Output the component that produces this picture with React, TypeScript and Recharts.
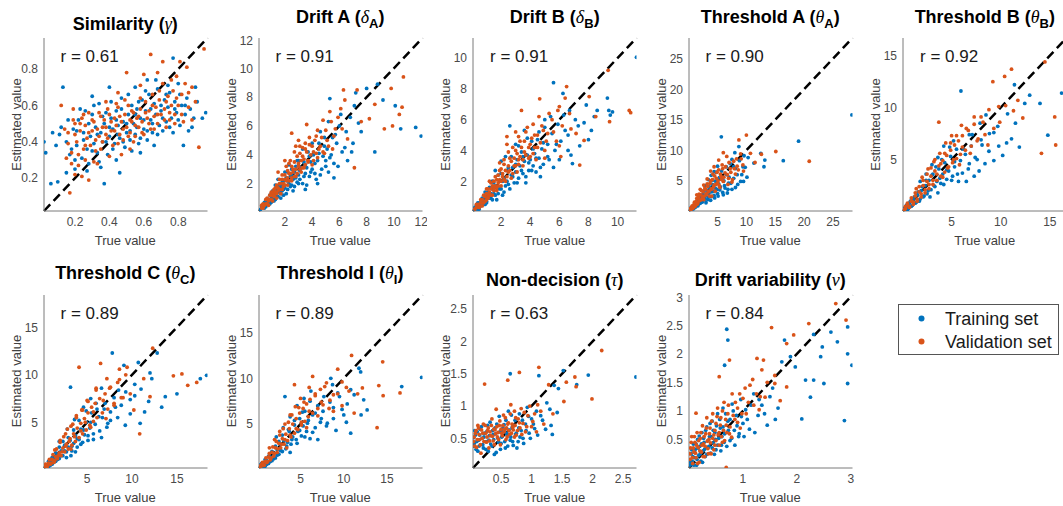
import React from 'react';
import { ScatterChart, Scatter, XAxis, YAxis, ReferenceLine } from 'recharts';

type Pt = [number, number];

// ---- data (true value, estimated value) ----
// outer points, then the dense core of each cloud

const simTrain: Pt[] = [[0.02,0.40],[0.03,0.34],[0.06,0.17],[0.07,0.45],[0.10,0.18],[0.11,0.44],[0.13,0.70],[0.15,0.23],[0.16,0.52],[0.18,0.36],[0.20,0.30],[0.21,0.46],[0.23,0.58],[0.25,0.41],[0.27,0.24],[0.28,0.50],[0.30,0.35],[0.31,0.60],[0.33,0.44],[0.34,0.29],[0.36,0.54],[0.37,0.17],[0.38,0.40],[0.40,0.48],[0.41,0.62],[0.42,0.36],[0.44,0.52],[0.45,0.44],[0.46,0.23],[0.47,0.58],[0.48,0.40],[0.50,0.50],[0.51,0.66],[0.52,0.46],[0.53,0.35],[0.55,0.55],[0.56,0.48],[0.57,0.62],[0.58,0.42],[0.60,0.52],[0.61,0.68],[0.62,0.46],[0.64,0.58],[0.65,0.50],[0.67,0.74],[0.68,0.44],[0.70,0.60],[0.71,0.53],[0.73,0.66],[0.74,0.71],[0.75,0.48],[0.77,0.86],[0.78,0.58],[0.80,0.52],[0.81,0.66],[0.83,0.38],[0.84,0.60],[0.86,0.46],[0.89,0.53],[0.90,0.70],[0.94,0.53],[0.96,0.56]];
const simTrainCore: Pt[] = [[0.15,0.40],[0.17,0.33],[0.19,0.47],[0.21,0.38],[0.22,0.52],[0.24,0.31],[0.25,0.45],[0.26,0.57],[0.27,0.36],[0.29,0.43],[0.30,0.55],[0.31,0.39],[0.32,0.48],[0.33,0.34],[0.34,0.61],[0.35,0.45],[0.36,0.40],[0.37,0.50],[0.38,0.56],[0.39,0.33],[0.40,0.43],[0.41,0.53],[0.42,0.47],[0.43,0.39],[0.44,0.57],[0.45,0.49],[0.46,0.42],[0.47,0.64],[0.48,0.51],[0.49,0.37],[0.50,0.45],[0.51,0.55],[0.52,0.41],[0.53,0.60],[0.54,0.50],[0.55,0.44],[0.56,0.58],[0.57,0.39],[0.58,0.53],[0.59,0.63],[0.60,0.47],[0.61,0.57],[0.62,0.41],[0.63,0.66],[0.64,0.52],[0.65,0.45],[0.66,0.61],[0.67,0.55],[0.68,0.69],[0.69,0.49],[0.70,0.57],[0.71,0.46],[0.72,0.63],[0.73,0.51],[0.74,0.59],[0.75,0.67],[0.76,0.53],[0.77,0.45],[0.78,0.62],[0.79,0.56],[0.80,0.72],[0.81,0.49],[0.82,0.60],[0.84,0.55],[0.85,0.64],[0.87,0.58],[0.88,0.48],[0.91,0.62],[0.28,0.28],[0.35,0.26],[0.44,0.30],[0.20,0.25],[0.58,0.34],[0.66,0.38],[0.12,0.48],[0.09,0.38],[0.30,0.65],[0.40,0.70],[0.55,0.70],[0.62,0.74]];
const simValid: Pt[] = [[0.12,0.60],[0.14,0.47],[0.16,0.39],[0.17,0.12],[0.18,0.28],[0.19,0.52],[0.20,0.44],[0.22,0.33],[0.23,0.50],[0.24,0.21],[0.25,0.55],[0.26,0.38],[0.28,0.19],[0.28,0.45],[0.30,0.52],[0.31,0.29],[0.32,0.41],[0.34,0.56],[0.35,0.36],[0.36,0.48],[0.38,0.44],[0.39,0.58],[0.40,0.32],[0.41,0.51],[0.43,0.46],[0.44,0.61],[0.45,0.39],[0.46,0.54],[0.48,0.47],[0.49,0.63],[0.50,0.78],[0.51,0.43],[0.52,0.52],[0.53,0.57],[0.54,0.40],[0.55,0.49],[0.57,0.54],[0.58,0.64],[0.59,0.45],[0.60,0.77],[0.61,0.56],[0.63,0.50],[0.64,0.88],[0.65,0.60],[0.66,0.47],[0.68,0.55],[0.69,0.68],[0.71,0.84],[0.72,0.52],[0.73,0.62],[0.75,0.56],[0.76,0.74],[0.78,0.50],[0.79,0.64],[0.81,0.84],[0.82,0.55],[0.85,0.81],[0.86,0.67],[0.88,0.52],[0.92,0.37],[0.95,0.91]];
const simValidCore: Pt[] = [[0.16,0.45],[0.18,0.34],[0.19,0.58],[0.20,0.50],[0.21,0.40],[0.22,0.27],[0.23,0.46],[0.24,0.53],[0.25,0.36],[0.26,0.49],[0.27,0.42],[0.28,0.56],[0.29,0.38],[0.30,0.46],[0.31,0.51],[0.32,0.35],[0.33,0.47],[0.34,0.43],[0.35,0.54],[0.36,0.40],[0.37,0.52],[0.38,0.48],[0.39,0.42],[0.40,0.55],[0.41,0.46],[0.42,0.38],[0.43,0.53],[0.44,0.49],[0.45,0.59],[0.46,0.44],[0.47,0.51],[0.48,0.41],[0.49,0.55],[0.50,0.48],[0.51,0.60],[0.52,0.45],[0.53,0.51],[0.54,0.56],[0.55,0.43],[0.56,0.53],[0.57,0.48],[0.58,0.58],[0.59,0.51],[0.60,0.44],[0.61,0.62],[0.62,0.53],[0.63,0.57],[0.64,0.47],[0.65,0.66],[0.66,0.54],[0.67,0.59],[0.68,0.50],[0.69,0.63],[0.70,0.55],[0.71,0.72],[0.72,0.58],[0.73,0.48],[0.74,0.65],[0.75,0.52],[0.76,0.60],[0.77,0.68],[0.78,0.55],[0.79,0.76],[0.80,0.60],[0.82,0.66],[0.83,0.51],[0.84,0.72],[0.86,0.59],[0.88,0.70],[0.90,0.62],[0.20,0.22],[0.26,0.30],[0.33,0.28],[0.15,0.31],[0.47,0.33],[0.52,0.36],[0.38,0.62],[0.45,0.67],[0.58,0.71],[0.68,0.78]];

const driftATrain: Pt[] = [[0.3,0.4],[0.5,0.3],[0.6,0.8],[0.8,0.6],[0.9,1.2],[1.0,0.9],[1.1,1.5],[1.2,0.8],[1.3,1.9],[1.4,1.2],[1.5,2.3],[1.6,1.4],[1.7,1.0],[1.8,2.1],[1.9,1.6],[2.0,2.8],[2.1,1.3],[2.2,2.2],[2.3,3.3],[2.4,1.8],[2.5,2.6],[2.6,1.5],[2.8,2.4],[2.9,3.6],[3.0,2.0],[3.1,2.9],[3.3,4.4],[3.4,2.5],[3.5,3.3],[3.6,1.9],[3.8,3.9],[3.9,2.8],[4.0,4.8],[4.2,3.4],[4.3,2.3],[4.5,4.1],[4.6,5.6],[4.7,3.0],[4.9,4.6],[5.0,3.6],[5.2,6.3],[5.3,7.9],[5.4,4.0],[5.6,2.4],[5.7,5.4],[5.9,3.2],[6.1,6.8],[6.4,4.5],[6.9,4.2],[7.1,7.4],[7.2,8.3],[7.6,5.6],[8.0,8.6],[8.6,4.2],[8.8,8.9],[9.2,7.8],[10.1,7.4],[10.5,5.8],[11.6,5.9],[12.0,5.3]];
const driftATrainCore: Pt[] = [[0.2,0.2],[0.4,0.5],[0.5,0.7],[0.6,0.4],[0.7,0.7],[0.8,0.9],[0.9,0.6],[1.0,1.1],[1.0,0.7],[1.1,1.2],[1.2,1.0],[1.3,1.3],[1.3,0.9],[1.4,1.6],[1.5,1.1],[1.5,1.8],[1.6,1.5],[1.7,1.8],[1.7,1.3],[1.8,1.5],[1.9,2.2],[1.9,1.2],[2.0,1.7],[2.1,2.4],[2.2,1.6],[2.2,2.8],[2.3,2.0],[2.4,2.5],[2.5,1.9],[2.5,3.0],[2.6,2.3],[2.7,1.8],[2.7,2.8],[2.8,3.2],[2.9,2.1],[3.0,2.6],[3.0,3.6],[3.1,2.3],[3.2,3.1],[3.3,2.0],[3.4,3.5],[3.5,2.7],[3.6,3.1],[3.7,4.2],[3.8,2.5],[3.9,3.5],[4.0,3.0],[4.1,4.0],[4.2,2.7],[4.4,3.6],[4.5,4.8],[4.6,2.6],[4.8,3.9],[4.9,5.2],[5.0,3.2],[5.1,4.4],[5.3,3.8],[5.5,5.2],[5.6,3.4],[5.8,4.8],[6.0,6.0],[6.2,4.2],[6.5,5.6],[6.8,6.6],[7.0,4.8],[7.4,6.2],[4.4,2.0],[3.5,1.6],[5.2,2.8],[6.6,3.6]];
const driftAValid: Pt[] = [[0.3,0.5],[0.4,0.3],[0.6,0.6],[0.7,1.0],[0.8,0.5],[0.9,0.9],[1.0,1.4],[1.1,0.8],[1.2,1.2],[1.3,1.7],[1.4,1.0],[1.5,1.5],[1.6,2.0],[1.7,1.3],[1.8,2.6],[1.9,1.8],[2.0,2.3],[2.1,3.2],[2.2,1.9],[2.3,2.7],[2.4,3.6],[2.5,2.2],[2.5,5.5],[2.6,3.0],[2.7,4.2],[2.8,2.5],[3.0,3.4],[3.1,4.6],[3.2,2.8],[3.3,3.9],[3.4,3.1],[3.5,4.4],[3.6,6.1],[3.7,3.6],[3.8,4.7],[4.0,3.3],[4.1,4.2],[4.3,5.3],[4.4,3.8],[4.6,4.6],[4.8,6.4],[4.9,4.1],[5.1,5.0],[5.3,7.0],[5.5,4.4],[5.7,5.8],[6.1,7.2],[6.3,8.5],[6.6,5.1],[7.1,3.1],[7.3,8.5],[7.6,6.3],[8.2,6.5],[8.6,7.5],[9.3,5.8],[9.8,8.6],[9.9,6.0],[10.4,6.8],[10.6,7.3],[10.7,9.4]];
const driftAValidCore: Pt[] = [[0.3,0.3],[0.4,0.6],[0.5,0.5],[0.6,0.9],[0.7,0.6],[0.8,0.8],[0.9,1.2],[1.0,0.9],[1.0,1.2],[1.1,1.4],[1.2,1.1],[1.2,1.6],[1.3,1.4],[1.4,1.3],[1.4,1.9],[1.5,1.7],[1.6,1.6],[1.6,2.3],[1.7,2.0],[1.8,1.6],[1.8,2.3],[1.9,2.0],[2.0,2.6],[2.0,1.9],[2.1,2.2],[2.2,2.9],[2.2,2.4],[2.3,2.2],[2.3,3.4],[2.4,2.7],[2.5,2.4],[2.5,3.2],[2.6,2.8],[2.7,3.5],[2.7,2.5],[2.8,3.0],[2.9,3.9],[2.9,2.7],[3.0,3.2],[3.1,4.1],[3.1,3.0],[3.2,3.6],[3.3,4.5],[3.3,3.1],[3.4,3.7],[3.5,4.8],[3.5,3.3],[3.6,4.2],[3.7,3.5],[3.8,5.2],[3.9,4.0],[4.0,4.6],[4.1,3.6],[4.2,5.0],[4.3,4.1],[4.4,5.7],[4.5,4.4],[4.7,5.2],[4.8,4.2],[5.0,5.7],[5.2,4.6],[5.4,6.3],[5.6,5.3],[5.9,6.6],[6.2,5.8],[6.4,7.8],[2.0,3.6],[2.8,4.6],[3.0,5.0],[1.5,2.8]];

const driftBTrain: Pt[] = [[0.2,0.3],[0.4,0.6],[0.5,0.2],[0.7,0.9],[0.8,0.5],[0.9,1.3],[1.0,0.7],[1.1,1.0],[1.2,1.6],[1.3,0.9],[1.4,2.0],[1.5,1.2],[1.6,1.7],[1.7,0.8],[1.8,2.4],[1.9,1.5],[2.0,3.3],[2.1,2.0],[2.2,1.3],[2.4,2.7],[2.5,1.8],[2.6,5.6],[2.7,3.6],[2.8,2.3],[3.0,3.1],[3.1,1.9],[3.2,4.3],[3.4,2.7],[3.5,3.6],[3.7,2.3],[3.8,4.8],[3.9,3.2],[4.1,2.7],[4.2,4.1],[4.4,3.5],[4.6,5.2],[4.7,2.9],[4.9,4.5],[5.0,5.5],[5.2,3.6],[5.4,6.2],[5.6,8.4],[5.8,4.4],[6.0,3.4],[6.25,7.7],[6.4,5.3],[6.6,4.0],[6.7,6.6],[6.9,3.15],[7.3,5.6],[7.85,6.95],[8.0,4.7],[8.4,6.2],[8.6,6.6],[9.3,7.4],[9.4,6.6],[9.5,6.3],[9.65,6.5],[11.3,10.05]];
const driftBTrainCore: Pt[] = [[0.2,0.1],[0.3,0.4],[0.4,0.2],[0.5,0.6],[0.6,0.4],[0.7,0.6],[0.8,0.8],[0.9,0.5],[1.0,1.0],[1.0,0.6],[1.1,1.3],[1.2,0.9],[1.3,1.2],[1.4,1.5],[1.4,0.8],[1.5,1.9],[1.6,1.1],[1.7,1.6],[1.8,1.2],[1.9,2.0],[2.0,1.5],[2.0,2.5],[2.1,1.1],[2.2,2.2],[2.3,1.7],[2.4,2.0],[2.5,2.9],[2.6,1.5],[2.7,2.4],[2.8,2.9],[2.9,1.9],[3.0,2.6],[3.1,3.4],[3.2,2.2],[3.3,3.0],[3.4,3.9],[3.5,2.5],[3.6,3.3],[3.7,1.9],[3.8,3.7],[3.9,2.7],[4.0,3.4],[4.1,4.6],[4.2,3.0],[4.3,3.8],[4.4,2.6],[4.5,4.7],[4.6,3.5],[4.8,4.1],[4.9,3.1],[5.0,6.0],[5.2,4.4],[5.3,3.4],[5.5,5.1],[5.7,4.0],[5.9,5.7],[6.1,4.6],[6.3,6.3],[6.6,5.0],[6.8,3.7],[7.1,6.0],[7.4,4.3],[7.7,5.8],[8.2,5.3],[2.3,3.6],[3.0,4.4],[3.6,5.3],[1.6,2.7],[4.7,2.3],[5.6,2.9]];
const driftBValid: Pt[] = [[0.2,0.2],[0.3,0.5],[0.5,0.4],[0.6,0.8],[0.7,0.4],[0.8,1.1],[0.9,0.7],[1.0,1.5],[1.1,1.0],[1.2,1.3],[1.3,1.9],[1.4,1.1],[1.5,1.6],[1.6,2.3],[1.7,1.4],[1.8,1.9],[1.9,2.7],[2.0,1.7],[2.1,2.3],[2.2,3.1],[2.3,2.0],[2.4,4.9],[2.5,2.6],[2.6,3.5],[2.7,2.2],[2.9,3.0],[3.0,4.0],[3.1,2.6],[3.2,3.4],[3.3,4.6],[3.4,6.6],[3.5,3.0],[3.6,3.9],[3.7,5.2],[3.9,3.5],[4.0,4.4],[4.2,3.8],[4.3,5.0],[4.5,4.2],[4.65,7.35],[4.8,5.6],[5.0,4.0],[5.2,5.1],[5.5,6.0],[5.8,4.6],[6.0,6.85],[6.1,3.6],[6.5,8.15],[6.8,5.4],[7.15,5.1],[7.4,3.05],[7.7,4.65],[8.05,7.5],[8.5,6.2],[9.35,9.2],[9.45,5.87],[10.8,6.6],[10.9,6.45]];
const driftBValidCore: Pt[] = [[0.3,0.3],[0.4,0.5],[0.5,0.3],[0.6,0.6],[0.7,0.8],[0.8,0.6],[0.9,1.0],[1.0,0.8],[1.0,1.2],[1.1,1.5],[1.1,0.9],[1.2,1.1],[1.3,1.5],[1.3,1.1],[1.4,1.7],[1.5,1.4],[1.5,2.0],[1.6,1.7],[1.7,2.1],[1.7,1.6],[1.8,2.4],[1.8,1.7],[1.9,2.1],[2.0,2.0],[2.0,2.8],[2.1,2.5],[2.2,2.1],[2.2,3.4],[2.3,2.7],[2.4,2.3],[2.5,3.0],[2.5,3.9],[2.6,2.7],[2.7,3.3],[2.8,2.5],[2.8,4.2],[2.9,3.5],[3.0,3.0],[3.1,3.8],[3.2,4.9],[3.2,3.1],[3.3,3.6],[3.4,4.2],[3.5,3.4],[3.6,4.6],[3.7,3.7],[3.8,5.5],[3.9,4.2],[4.0,3.6],[4.1,4.8],[4.2,5.7],[4.3,4.2],[4.4,3.4],[4.5,5.0],[4.6,6.2],[4.7,4.5],[4.9,5.3],[5.1,4.6],[5.3,6.4],[5.6,5.2],[5.9,6.6],[6.2,5.6],[6.4,7.4],[6.7,6.4],[1.9,3.2],[2.4,4.4],[3.0,5.2],[1.2,2.0],[5.0,3.5],[6.0,4.3]];

const thrATrain: Pt[] = [[0.3,0.2],[0.5,0.6],[0.8,0.4],[1.0,1.1],[1.2,0.7],[1.4,1.5],[1.6,0.9],[1.8,2.0],[2.0,1.3],[2.2,2.6],[2.4,1.6],[2.6,3.3],[2.8,2.1],[3.0,1.4],[3.2,3.0],[3.4,2.3],[3.6,4.0],[3.8,1.8],[4.0,3.2],[4.2,5.1],[4.4,2.6],[4.6,3.8],[4.8,6.4],[5.0,2.9],[5.2,4.5],[5.4,3.5],[5.65,12.2],[5.8,5.5],[6.0,2.7],[6.2,4.2],[6.5,7.3],[6.8,3.6],[7.0,5.6],[7.3,4.6],[7.5,8.5],[7.8,7.3],[8.1,3.9],[8.4,6.0],[8.7,10.6],[9.0,4.9],[9.5,4.9],[9.8,7.2],[10.3,8.8],[11.3,7.9],[12.5,9.5],[13.05,7.3],[13.2,8.4],[16.4,8.3],[19.05,11.5],[28.3,15.8]];
const thrATrainCore: Pt[] = [[0.3,0.5],[0.5,0.3],[0.7,0.8],[0.9,0.5],[1.1,1.3],[1.3,0.9],[1.5,1.8],[1.7,1.2],[1.9,1.6],[2.1,2.2],[2.3,1.5],[2.5,2.8],[2.7,1.9],[2.9,2.6],[3.1,3.5],[3.3,1.9],[3.5,2.9],[3.7,3.8],[3.9,2.4],[4.1,4.4],[4.3,3.3],[4.5,2.2],[4.7,4.9],[4.9,3.6],[5.1,2.5],[5.3,5.5],[5.5,4.0],[5.7,6.6],[5.9,3.1],[6.1,5.0],[6.3,3.8],[6.6,6.0],[6.9,4.6],[7.2,7.8],[7.5,3.6],[7.8,5.4],[8.1,7.0],[8.5,4.4],[8.8,8.3],[9.2,6.0],[9.6,9.1],[10.1,5.6],[2.8,4.2],[3.4,5.2],[4.4,6.5],[6.7,3.0],[5.0,7.4],[3.9,5.9],[8.0,9.6],[9.4,7.3]];
const thrAValid: Pt[] = [[0.2,0.4],[0.4,0.3],[0.6,0.9],[0.8,0.6],[1.0,1.5],[1.2,1.0],[1.4,2.1],[1.6,1.4],[1.8,2.8],[2.0,1.8],[2.2,3.4],[2.4,2.4],[2.6,1.9],[2.8,3.8],[3.0,2.7],[3.2,4.5],[3.4,3.2],[3.6,2.5],[3.8,5.0],[4.0,3.7],[4.2,6.1],[4.4,4.3],[4.6,3.3],[4.8,5.4],[5.0,4.6],[5.2,6.8],[5.4,3.9],[5.6,5.7],[5.8,7.6],[6.0,4.9],[6.3,6.3],[6.6,9.0],[6.9,5.4],[7.2,7.0],[7.5,4.8],[7.8,8.2],[8.1,6.1],[8.4,7.4],[8.7,11.7],[9.1,8.6],[9.5,6.6],[10.0,12.5],[10.7,9.5],[11.5,8.0],[12.6,9.35],[15.1,9.8],[20.9,8.2]];
const thrAValidCore: Pt[] = [[0.3,0.3],[0.5,0.7],[0.7,0.5],[0.9,1.1],[1.1,0.8],[1.3,1.6],[1.5,1.2],[1.7,2.3],[1.9,1.8],[2.1,2.7],[2.3,2.0],[2.5,3.2],[2.7,2.5],[2.9,3.6],[3.1,2.9],[3.3,4.1],[3.5,3.3],[3.7,4.6],[3.9,3.6],[4.1,5.2],[4.3,4.0],[4.5,5.8],[4.7,4.4],[4.9,6.4],[5.1,5.0],[5.3,4.2],[5.5,6.1],[5.7,5.2],[5.9,7.0],[6.1,5.6],[6.4,7.3],[6.7,6.0],[7.0,8.0],[7.3,6.4],[7.6,5.2],[7.9,7.0],[8.3,8.6],[8.6,6.8],[9.0,9.4],[9.4,7.6],[2.0,3.6],[2.6,4.3],[3.2,5.3],[3.8,6.6],[4.4,7.3],[1.4,2.7],[5.2,8.4],[6.0,9.6],[6.8,4.4],[4.0,2.5]];

const thrBTrain: Pt[] = [[0.2,0.3],[0.4,0.6],[0.6,0.3],[0.8,1.0],[1.0,0.6],[1.2,1.4],[1.4,0.9],[1.6,1.9],[1.8,1.2],[2.0,2.4],[2.2,1.5],[2.4,3.0],[2.6,2.0],[2.8,1.4],[3.0,3.5],[3.2,2.5],[3.4,4.3],[3.6,1.8],[3.8,3.2],[4.0,5.0],[4.2,2.6],[4.5,4.0],[4.8,6.2],[5.0,3.0],[5.3,4.8],[5.6,3.6],[5.95,11.6],[6.2,6.0],[6.5,2.9],[6.8,4.6],[7.1,7.4],[7.4,5.2],[7.8,3.9],[8.1,6.4],[8.5,9.3],[8.85,7.5],[9.3,4.9],[9.7,8.2],[10.2,5.4],[10.7,9.4],[11.1,7.0],[11.4,12.2],[11.9,6.2],[12.45,10.4],[12.95,11.2],[14.0,10.4],[14.8,7.35],[16.2,11.4]];
const thrBTrainCore: Pt[] = [[0.3,0.4],[0.5,0.2],[0.7,0.8],[0.9,0.5],[1.1,1.2],[1.3,0.8],[1.5,1.6],[1.7,1.0],[1.9,2.0],[2.1,1.4],[2.3,2.5],[2.5,1.7],[2.7,3.0],[2.9,2.1],[3.1,3.6],[3.3,2.4],[3.5,2.9],[3.7,4.1],[3.9,2.7],[4.1,3.6],[4.3,4.7],[4.5,3.1],[4.7,3.9],[4.9,5.3],[5.1,3.4],[5.3,4.3],[5.5,6.0],[5.7,2.9],[5.9,4.9],[6.1,3.7],[6.4,5.5],[6.7,4.1],[7.0,6.3],[7.3,3.4],[7.6,5.0],[8.0,6.9],[8.4,4.6],[8.8,5.8],[9.3,7.6],[9.8,6.3],[2.4,3.6],[3.0,4.5],[3.6,5.2],[4.2,6.3],[1.8,2.9],[6.8,7.4],[5.2,6.8],[7.9,8.5],[10.6,6.6],[11.5,8.5]];
const thrBValid: Pt[] = [[0.2,0.2],[0.3,0.5],[0.5,0.8],[0.7,0.5],[0.9,1.3],[1.1,0.9],[1.3,1.8],[1.5,1.2],[1.7,2.4],[1.9,1.7],[2.1,3.0],[2.3,2.1],[2.5,3.6],[2.7,2.6],[2.9,4.2],[3.1,3.0],[3.3,5.0],[3.5,3.6],[3.7,8.6],[3.9,4.6],[4.1,3.3],[4.3,5.6],[4.6,4.2],[4.9,6.6],[5.2,5.0],[5.5,7.3],[5.8,4.5],[6.1,6.2],[6.5,8.0],[6.9,5.6],[7.3,9.1],[7.7,7.0],[8.2,8.6],[8.7,6.4],[9.2,12.5],[9.9,8.6],[10.4,13.0],[11.1,13.7],[11.75,10.7],[12.25,9.0],[14.15,5.6],[14.5,14.4],[15.5,9.1],[15.6,6.4]];
const thrBValidCore: Pt[] = [[0.3,0.3],[0.5,0.6],[0.7,0.4],[0.9,1.0],[1.1,0.7],[1.3,1.5],[1.5,1.0],[1.7,1.9],[1.9,1.4],[2.1,2.5],[2.3,1.8],[2.5,2.9],[2.7,2.2],[2.9,3.4],[3.1,2.6],[3.3,3.9],[3.5,3.0],[3.7,4.4],[3.9,3.4],[4.1,4.9],[4.3,3.8],[4.5,5.4],[4.7,4.3],[4.9,5.9],[5.1,4.7],[5.3,6.4],[5.5,5.1],[5.7,6.8],[5.9,5.5],[6.1,7.3],[6.4,5.9],[6.7,7.8],[7.0,6.3],[7.3,8.4],[7.6,6.8],[8.0,9.1],[8.4,7.4],[8.8,9.8],[9.3,8.0],[9.8,10.1],[2.0,3.3],[2.6,4.1],[3.2,4.8],[3.8,5.6],[4.4,6.6],[5.0,7.3],[1.4,2.2],[6.0,8.3],[10.5,10.2],[11.3,9.7]];

const thrCTrain: Pt[] = [[0.3,0.4],[0.5,0.2],[0.7,0.9],[0.9,0.5],[1.1,1.3],[1.3,0.8],[1.5,1.8],[1.7,1.1],[1.9,2.4],[2.1,1.5],[2.3,3.0],[2.5,2.0],[2.7,1.3],[2.9,3.4],[3.15,8.7],[3.3,2.5],[3.5,4.2],[3.7,1.9],[3.9,3.3],[4.1,5.2],[4.3,2.7],[4.6,4.2],[4.9,6.2],[5.1,3.1],[5.4,5.0],[5.7,3.8],[6.0,7.0],[6.3,5.6],[6.6,3.4],[6.9,6.4],[7.2,4.5],[7.6,5.2],[7.8,12.3],[8.15,6.6],[8.5,8.4],[9.1,11.0],[9.25,4.7],[9.8,7.4],[10.3,9.0],[10.7,11.3],[10.9,4.9],[11.4,6.1],[11.85,7.2],[12.2,9.6],[12.8,12.3],[13.3,6.6],[13.7,7.7],[15.0,8.0],[17.6,9.6],[18.3,9.95]];
const thrCTrainCore: Pt[] = [[0.3,0.2],[0.5,0.5],[0.7,0.3],[0.9,0.9],[1.1,0.6],[1.3,1.2],[1.5,0.9],[1.7,1.6],[1.9,1.2],[2.1,2.0],[2.3,1.5],[2.5,2.6],[2.7,1.9],[2.9,2.4],[3.1,3.1],[3.3,2.0],[3.5,2.8],[3.7,3.6],[3.9,2.4],[4.1,3.2],[4.3,4.3],[4.5,2.9],[4.7,3.7],[4.9,5.0],[5.1,3.6],[5.3,4.4],[5.5,6.0],[5.7,3.2],[5.9,4.8],[6.1,6.4],[6.4,4.1],[6.7,5.5],[7.0,7.0],[7.3,4.9],[7.6,6.1],[8.0,7.6],[8.4,5.5],[8.8,6.8],[9.3,8.2],[9.8,5.9],[10.3,7.8],[2.8,4.3],[3.6,5.3],[4.6,6.6],[5.4,7.5],[6.6,8.6],[1.9,3.0],[3.2,1.5],[11.0,8.5],[12.0,10.2]];
const thrCValid: Pt[] = [[0.2,0.3],[0.4,0.6],[0.6,0.4],[0.8,1.1],[1.0,0.7],[1.2,1.6],[1.4,1.0],[1.6,2.2],[1.8,1.5],[2.0,2.9],[2.2,1.9],[2.4,3.5],[2.6,2.5],[2.8,4.3],[3.0,3.0],[3.2,2.2],[3.4,4.8],[3.6,3.5],[3.8,5.7],[4.1,10.8],[4.3,4.1],[4.5,6.3],[4.8,5.0],[5.1,7.2],[5.4,4.5],[5.7,6.1],[6.0,8.4],[6.5,11.2],[6.8,7.3],[7.1,5.4],[7.5,8.6],[8.0,6.8],[8.6,9.5],[9.0,7.6],[9.45,10.8],[10.2,6.3],[10.85,3.8],[11.3,9.6],[12.0,7.7],[12.3,12.8],[14.6,9.9],[15.55,10.1],[16.2,8.9],[17.2,9.2]];
const thrCValidCore: Pt[] = [[0.3,0.4],[0.5,0.3],[0.7,0.7],[0.9,0.6],[1.1,1.1],[1.3,0.8],[1.5,1.4],[1.7,1.2],[1.9,1.8],[2.1,1.5],[2.3,2.3],[2.5,1.9],[2.7,2.7],[2.9,2.2],[3.1,3.3],[3.3,2.6],[3.5,3.8],[3.7,3.0],[3.9,4.4],[4.1,3.4],[4.3,4.9],[4.5,3.8],[4.7,5.4],[4.9,4.2],[5.1,6.0],[5.3,4.7],[5.5,6.6],[5.7,5.1],[5.9,7.0],[6.1,5.5],[6.4,7.5],[6.7,6.0],[7.0,8.0],[7.3,6.4],[7.6,8.7],[8.0,7.0],[8.4,9.2],[8.8,7.6],[9.3,10.0],[9.8,8.0],[2.0,3.1],[2.6,3.8],[3.2,4.6],[3.8,5.5],[4.4,6.3],[5.0,7.3],[6.0,8.6],[7.2,9.6],[1.4,2.1],[8.6,10.6]];

const thrITrain: Pt[] = [[0.3,0.3],[0.5,0.7],[0.7,0.3],[0.9,1.1],[1.1,0.6],[1.3,1.5],[1.5,0.9],[1.7,2.0],[1.9,1.2],[2.1,2.6],[2.3,1.6],[2.5,3.1],[2.7,2.1],[2.9,3.8],[3.2,8.0],[3.4,2.6],[3.6,4.4],[3.8,1.9],[4.0,3.3],[4.3,5.4],[4.6,2.9],[4.9,4.3],[5.2,6.3],[5.5,3.6],[5.8,5.1],[6.1,7.5],[6.4,4.1],[6.7,6.2],[7.0,3.3],[7.4,5.6],[7.7,8.0],[8.1,5.1],[8.5,10.0],[8.8,6.8],[9.1,4.3],[9.5,8.0],[10.0,6.0],[10.4,7.2],[10.8,4.0],[10.8,8.75],[11.75,11.1],[11.95,10.7],[12.3,7.65],[12.7,6.55],[16.7,9.1],[19.0,10.1]];
const thrITrainCore: Pt[] = [[0.3,0.5],[0.5,0.2],[0.7,0.7],[0.9,0.4],[1.1,1.0],[1.3,0.7],[1.5,1.4],[1.7,1.0],[1.9,1.8],[2.1,1.3],[2.3,2.2],[2.5,1.7],[2.7,2.8],[2.9,2.0],[3.1,3.2],[3.3,2.3],[3.5,3.0],[3.7,4.2],[3.9,2.8],[4.1,3.6],[4.3,4.9],[4.5,3.3],[4.7,4.2],[4.9,5.6],[5.1,3.7],[5.3,4.8],[5.5,6.4],[5.7,4.2],[5.9,5.4],[6.1,3.4],[6.4,6.0],[6.7,4.6],[7.0,7.0],[7.3,5.2],[7.6,6.4],[8.0,4.8],[8.4,7.4],[8.8,5.6],[9.3,8.4],[9.8,6.6],[10.3,5.2],[3.0,4.6],[3.8,5.8],[4.6,7.0],[5.4,7.8],[2.2,3.6],[6.2,8.6],[8.7,9.3],[11.2,8.2],[12.0,6.0]];
const thrIValid: Pt[] = [[0.2,0.4],[0.4,0.2],[0.6,0.8],[0.8,0.5],[1.0,1.3],[1.2,0.9],[1.4,1.8],[1.6,1.3],[1.8,2.5],[2.0,1.8],[2.2,3.1],[2.4,2.3],[2.6,3.8],[2.8,2.8],[3.0,4.5],[3.2,3.3],[3.4,2.4],[3.6,5.2],[3.8,3.8],[4.0,6.0],[4.3,9.3],[4.5,4.5],[4.8,6.8],[5.1,5.2],[5.4,7.4],[5.7,4.6],[6.0,6.4],[6.4,10.2],[6.7,8.1],[7.0,5.9],[7.4,7.4],[7.8,9.1],[8.3,6.7],[8.8,8.2],[9.3,11.0],[9.8,7.0],[10.3,9.0],[10.9,12.5],[11.2,6.2],[12.15,8.95],[13.85,4.6],[14.05,9.2],[14.5,11.8],[14.55,8.1],[16.5,8.4]];
const thrIValidCore: Pt[] = [[0.3,0.3],[0.5,0.6],[0.7,0.5],[0.9,0.9],[1.1,0.8],[1.3,1.4],[1.5,1.1],[1.7,1.9],[1.9,1.5],[2.1,2.4],[2.3,1.9],[2.5,2.9],[2.7,2.4],[2.9,3.4],[3.1,2.8],[3.3,3.9],[3.5,3.2],[3.7,4.5],[3.9,3.6],[4.1,5.0],[4.3,4.0],[4.5,5.6],[4.7,4.4],[4.9,6.2],[5.1,4.9],[5.3,6.7],[5.5,5.3],[5.7,7.2],[5.9,5.8],[6.1,7.7],[6.4,6.2],[6.7,8.3],[7.0,6.7],[7.3,8.8],[7.6,7.1],[8.0,9.5],[8.4,7.6],[8.8,6.4],[9.3,8.3],[9.8,9.6],[2.0,3.3],[2.6,4.2],[3.2,5.0],[3.8,6.0],[4.4,6.9],[5.0,7.8],[1.4,2.4],[6.0,9.0],[10.6,8.6],[11.6,8.3]];

const ndTrain: Pt[] = [[0.05,0.38],[0.05,0.51],[0.07,0.62],[0.1,0.45],[0.12,0.30],[0.15,0.55],[0.18,0.68],[0.2,0.40],[0.22,0.52],[0.25,0.33],[0.27,0.61],[0.3,0.47],[0.32,0.75],[0.35,0.38],[0.37,0.56],[0.4,0.66],[0.42,0.28],[0.45,0.50],[0.47,0.84],[0.5,0.42],[0.52,0.60],[0.55,0.71],[0.57,0.35],[0.6,0.55],[0.62,0.92],[0.65,1.50],[0.65,0.47],[0.68,0.66],[0.7,0.39],[0.73,0.78],[0.75,0.58],[0.78,0.45],[0.8,0.88],[0.83,0.62],[0.86,0.50],[0.9,0.72],[0.93,0.98],[0.96,0.58],[1.0,0.80],[1.05,0.65],[1.12,1.47],[1.15,0.85],[1.23,0.64],[1.3,0.95],[1.34,0.56],[1.37,1.32],[1.44,1.27],[1.52,1.55],[1.74,1.33],[1.93,1.48],[2.71,1.45]];
const ndTrainCore: Pt[] = [[0.06,0.42],[0.08,0.55],[0.09,0.33],[0.11,0.60],[0.13,0.47],[0.14,0.38],[0.16,0.64],[0.19,0.50],[0.21,0.35],[0.23,0.58],[0.26,0.45],[0.28,0.70],[0.29,0.30],[0.31,0.54],[0.33,0.41],[0.36,0.62],[0.38,0.48],[0.39,0.25],[0.41,0.57],[0.43,0.72],[0.46,0.44],[0.48,0.60],[0.49,0.33],[0.51,0.52],[0.53,0.66],[0.56,0.45],[0.58,0.78],[0.59,0.58],[0.61,0.38],[0.63,0.63],[0.66,0.52],[0.67,0.86],[0.69,0.45],[0.71,0.70],[0.74,0.56],[0.76,0.35],[0.79,0.66],[0.81,0.52],[0.85,0.78],[0.87,0.42],[0.91,0.62],[0.95,0.84],[0.98,0.50],[1.03,0.72],[1.08,0.92],[1.1,0.55],[1.18,0.78],[1.25,1.05],[1.32,0.70],[1.42,0.90]];
const ndValid: Pt[] = [[0.05,0.45],[0.08,0.58],[0.1,0.36],[0.13,0.66],[0.15,0.48],[0.17,0.27],[0.2,0.58],[0.23,1.34],[0.24,0.70],[0.26,0.44],[0.28,0.62],[0.3,0.35],[0.33,0.54],[0.35,0.80],[0.37,0.46],[0.4,0.63],[0.42,0.95],[0.44,0.52],[0.47,0.70],[0.49,0.40],[0.51,0.58],[0.54,0.86],[0.56,0.64],[0.58,0.48],[0.61,1.40],[0.61,0.72],[0.64,0.56],[0.66,1.02],[0.69,0.67],[0.72,0.52],[0.74,0.82],[0.77,0.62],[0.8,1.52],[0.8,0.74],[0.84,0.56],[0.88,0.90],[0.92,0.68],[0.97,1.00],[1.02,0.76],[1.08,0.60],[1.12,1.60],[1.15,0.92],[1.2,0.72],[1.28,1.33],[1.35,0.88],[1.53,1.07],[1.57,1.37],[1.71,1.45],[1.73,1.30],[1.99,1.11],[2.15,1.86]];
const ndValidCore: Pt[] = [[0.06,0.52],[0.07,0.38],[0.09,0.62],[0.11,0.48],[0.12,0.70],[0.14,0.56],[0.16,0.40],[0.18,0.63],[0.19,0.50],[0.21,0.72],[0.22,0.45],[0.25,0.58],[0.27,0.52],[0.29,0.66],[0.31,0.46],[0.32,0.60],[0.34,0.70],[0.36,0.53],[0.38,0.64],[0.39,0.40],[0.41,0.57],[0.43,0.68],[0.45,0.59],[0.46,0.48],[0.48,0.77],[0.5,0.64],[0.52,0.54],[0.53,0.70],[0.55,0.60],[0.57,0.82],[0.59,0.66],[0.6,0.52],[0.62,0.74],[0.63,0.62],[0.65,0.88],[0.67,0.58],[0.68,0.72],[0.7,0.63],[0.72,0.92],[0.73,0.70],[0.75,0.55],[0.78,0.80],[0.81,0.66],[0.83,0.96],[0.86,0.73],[0.9,0.60],[0.94,0.85],[1.0,0.68],[1.05,0.88],[1.1,1.02]];

const dvTrain: Pt[] = [[0.02,0.05],[0.04,0.25],[0.06,0.12],[0.08,0.42],[0.1,0.18],[0.12,0.33],[0.14,0.05],[0.16,0.50],[0.18,0.22],[0.2,0.38],[0.22,0.12],[0.24,0.62],[0.26,0.30],[0.28,0.45],[0.3,0.20],[0.33,0.72],[0.35,0.36],[0.38,0.55],[0.4,0.26],[0.43,0.82],[0.45,0.44],[0.48,0.62],[0.5,0.32],[0.53,0.95],[0.55,0.52],[0.58,0.70],[0.6,0.40],[0.63,1.05],[0.66,1.80],[0.66,0.60],[0.7,2.43],[0.72,2.24],[0.72,0.82],[0.76,0.48],[0.8,1.12],[0.84,0.66],[0.88,0.92],[0.92,0.55],[0.96,1.20],[1.0,0.78],[1.05,1.02],[1.12,0.68],[1.2,1.30],[1.28,0.92],[1.35,1.10],[1.45,0.75],[1.55,1.40],[1.65,1.05],[1.72,1.86],[1.77,2.24],[1.88,1.95],[1.97,1.77],[2.09,0.86],[2.16,1.54],[2.25,1.24],[2.31,2.34],[2.31,1.54],[2.44,1.95],[2.47,2.12],[2.5,1.48],[2.63,2.38],[2.75,2.21],[2.88,0.83],[2.94,2.47],[2.94,2.0],[2.94,1.48],[3.02,1.8]];
const dvTrainCore: Pt[] = [[0.03,0.10],[0.05,0.32],[0.07,0.20],[0.09,0.05],[0.11,0.27],[0.13,0.42],[0.15,0.15],[0.17,0.35],[0.19,0.56],[0.21,0.25],[0.23,0.42],[0.25,0.10],[0.27,0.52],[0.29,0.33],[0.31,0.66],[0.33,0.24],[0.35,0.48],[0.37,0.38],[0.39,0.78],[0.41,0.55],[0.43,0.35],[0.45,0.66],[0.47,0.24],[0.49,0.50],[0.51,0.74],[0.53,0.40],[0.55,0.60],[0.57,0.85],[0.59,0.30],[0.61,0.55],[0.63,0.72],[0.65,0.45],[0.68,0.95],[0.7,0.38],[0.73,0.66],[0.76,0.85],[0.79,0.52],[0.82,1.00],[0.85,0.40],[0.89,0.74],[0.93,0.60],[0.97,0.90],[1.02,0.55],[1.08,0.85],[1.15,1.10],[1.22,0.62],[1.3,1.20],[1.4,0.95],[1.5,1.25],[1.6,0.85]];
const dvValid: Pt[] = [[0.02,0.15],[0.03,0.35],[0.05,0.55],[0.07,0.08],[0.09,0.28],[0.11,0.45],[0.13,0.96],[0.13,0.18],[0.15,0.62],[0.17,0.36],[0.19,0.10],[0.21,0.52],[0.23,0.28],[0.25,0.74],[0.27,0.42],[0.29,0.20],[0.31,0.60],[0.33,0.88],[0.35,0.34],[0.37,0.50],[0.39,0.70],[0.41,0.25],[0.44,0.95],[0.46,0.58],[0.48,0.40],[0.5,0.78],[0.53,1.05],[0.56,1.60],[0.56,0.62],[0.59,0.88],[0.62,0.45],[0.65,1.15],[0.69,0.01],[0.69,0.75],[0.72,0.95],[0.75,1.89],[0.75,0.60],[0.8,1.30],[0.85,0.85],[0.9,1.05],[0.95,0.70],[1.0,1.22],[1.06,0.95],[1.13,1.45],[1.2,1.10],[1.26,1.92],[1.32,1.25],[1.38,1.89],[1.41,1.24],[1.53,2.46],[1.59,1.62],[1.59,1.48],[1.69,1.18],[1.81,2.18],[1.81,1.42],[1.94,2.33],[2.22,2.53],[2.72,2.88],[2.91,2.59]];
const dvValidCore: Pt[] = [[0.02,0.25],[0.04,0.45],[0.06,0.18],[0.08,0.35],[0.1,0.55],[0.12,0.26],[0.14,0.40],[0.16,0.08],[0.18,0.48],[0.2,0.30],[0.22,0.62],[0.24,0.40],[0.26,0.20],[0.28,0.55],[0.3,0.38],[0.32,0.70],[0.34,0.47],[0.36,0.25],[0.38,0.60],[0.4,0.44],[0.42,0.82],[0.44,0.52],[0.46,0.32],[0.48,0.66],[0.5,0.48],[0.52,0.90],[0.54,0.58],[0.56,0.40],[0.58,0.75],[0.6,0.55],[0.62,1.00],[0.64,0.66],[0.66,0.48],[0.68,0.85],[0.7,0.62],[0.73,1.10],[0.76,0.72],[0.79,0.54],[0.82,0.92],[0.86,1.15],[0.9,0.80],[0.94,1.30],[0.98,0.95],[1.04,1.40],[1.1,1.15],[1.18,1.55],[1.25,1.30],[1.35,1.72],[1.45,1.50],[1.3,1.02]];

// axis limits (same on x and y) and tick labels
const limits: Pt[] = [[0.02, 0.97], [0.1, 12.1], [0.07, 11.3], [0.05, 28.4], [0.05, 16.7], [0.2, 18.4], [0.2, 19.1], [0.04, 2.72], [0, 3.03]];
const xTicks = [[0.2, 0.4, 0.6, 0.8], [2, 4, 6, 8, 10, 12], [2, 4, 6, 8, 10], [5, 10, 15, 20, 25], [5, 10, 15], [5, 10, 15], [5, 10, 15], [0.5, 1, 1.5, 2, 2.5], [1, 2, 3]];
const yTicks = [[0.2, 0.4, 0.6, 0.8], [2, 4, 6, 8, 10, 12], [2, 4, 6, 8, 10], [5, 10, 15, 20, 25], [5, 10, 15], [5, 10, 15], [5, 10, 15], [0.5, 1, 1.5, 2, 2.5], [0.5, 1, 1.5, 2, 2.5, 3]];
const titleNames = ['Similarity', 'Drift A', 'Drift B', 'Threshold A', 'Threshold B', 'Threshold C', 'Threshold I', 'Non-decision', 'Drift variability'];
const titleGreek = ['γ', 'δ', 'δ', 'θ', 'θ', 'θ', 'θ', 'τ', 'ν'];
const titleSubs = ['', 'A', 'B', 'A', 'B', 'C', 'I', '', ''];
const rValues = ['0.61', '0.91', '0.91', '0.90', '0.92', '0.89', '0.89', '0.63', '0.84'];
const trainSets = [
  [...simTrain, ...simTrainCore], [...driftATrain, ...driftATrainCore], [...driftBTrain, ...driftBTrainCore],
  [...thrATrain, ...thrATrainCore], [...thrBTrain, ...thrBTrainCore], [...thrCTrain, ...thrCTrainCore],
  [...thrITrain, ...thrITrainCore], [...ndTrain, ...ndTrainCore], [...dvTrain, ...dvTrainCore],
];
const validSets = [
  [...simValid, ...simValidCore], [...driftAValid, ...driftAValidCore], [...driftBValid, ...driftBValidCore],
  [...thrAValid, ...thrAValidCore], [...thrBValid, ...thrBValidCore], [...thrCValid, ...thrCValidCore],
  [...thrIValid, ...thrIValidCore], [...ndValid, ...ndValidCore], [...dvValid, ...dvValidCore],
];
const seriesNames = ['Training set', 'Validation set'];

// ---- layout ----
const BLUE = '#0072BD';
const ORANGE = '#D95319';
const FONT = '"Liberation Sans", Arial, Helvetica, sans-serif';
const SERIF = '"Liberation Serif", "Times New Roman", serif';
const PW = 163.5;
const PH = 173;
const colLeft = [43.5, 258.5, 473, 688.5, 903];
const rowTop = [38, 294.5];
const Y_AXIS_W = 30;

const panelPos = (i: number) => ({
  left: colLeft[i < 5 ? i : i - 5],
  top: rowTop[i < 5 ? 0 : 1],
});

const dot = (color: string) => (props: any) => (
  <circle cx={props.cx} cy={props.cy} r={1.9} fill={color} />
);

function Panel({ i }: { i: number }) {
  const { left, top } = panelPos(i);
  const [lo, hi] = limits[i];
  const toRows = (a: Pt[]) => a.map(([x, y]) => ({ x, y }));
  const tick = { fill: '#4a4a4a', fontSize: 12, fontFamily: FONT };
  return (
    <div style={{ position: 'absolute', left: left - Y_AXIS_W, top: top - 5 }}>
      <ScatterChart width={PW + Y_AXIS_W + 5} height={PH + 25} margin={{ top: 5, right: 5, bottom: 0, left: 0 }}>
        <XAxis
          type="number"
          dataKey="x"
          domain={[lo, hi]}
          ticks={xTicks[i]}
          allowDataOverflow
          height={20}
          tickLine={false}
          tickSize={3}
          tickMargin={3}
          axisLine={{ stroke: '#7a7a7a' }}
          tick={tick}
        />
        <YAxis
          type="number"
          dataKey="y"
          domain={[lo, hi]}
          ticks={yTicks[i]}
          allowDataOverflow
          width={Y_AXIS_W}
          tickLine={false}
          tickSize={3}
          tickMargin={3}
          axisLine={{ stroke: '#7a7a7a' }}
          tick={tick}
        />
        <Scatter data={toRows(trainSets[i])} fill={BLUE} shape={dot(BLUE)} isAnimationActive={false} />
        <Scatter data={toRows(validSets[i])} fill={ORANGE} shape={dot(ORANGE)} isAnimationActive={false} />
        <ReferenceLine
          segment={[{ x: lo, y: lo }, { x: hi, y: hi }]}
          stroke="#000"
          strokeWidth={2.5}
          strokeDasharray="9 5"
          ifOverflow="visible"
        />
      </ScatterChart>
    </div>
  );
}

function Labels() {
  return (
    <svg width={1063} height={506} style={{ position: 'absolute', left: 0, top: 0, pointerEvents: 'none' }}>
      {titleNames.map((name, i) => {
        const { left, top } = panelPos(i);
        const sub = titleSubs[i];
        const base = top - (sub ? 15.5 : 8.5);
        return (
          <g key={name} fontFamily={FONT}>
            <text x={left + PW / 2} y={base} textAnchor="middle" fontSize={18} fontWeight="bold" fill="#000">
              {name} (
              <tspan fontFamily={SERIF} fontStyle="italic" fontWeight="normal">{titleGreek[i]}</tspan>
              {sub ? <tspan fontSize={13} dy={5}>{sub}</tspan> : null}
              <tspan dy={sub ? -5 : 0}>)</tspan>
            </text>
            <text x={left + 17} y={top + 24} fontSize={17} fill="#1a1a1a">r = {rValues[i]}</text>
            <text x={left + PW / 2} y={top + PH + 34} textAnchor="middle" fontSize={13} fill="#404040">True value</text>
            <text
              transform={`translate(${left - 23}, ${top + PH / 2}) rotate(-90)`}
              textAnchor="middle"
              fontSize={13}
              fill="#404040"
            >
              Estimated value
            </text>
          </g>
        );
      })}
      <g fontFamily={FONT}>
        <rect x={898.5} y={304.5} width={160} height={50} fill="#fff" stroke="#555" strokeWidth={1} />
        <circle cx={921.5} cy={318.5} r={3} fill={BLUE} />
        <text x={945} y={325} fontSize={18} fill="#1a1a1a">{seriesNames[0]}</text>
        <circle cx={921.5} cy={341.5} r={3} fill={ORANGE} />
        <text x={945} y={348} fontSize={18} fill="#1a1a1a">{seriesNames[1]}</text>
      </g>
    </svg>
  );
}

export default function App() {
  return (
    <div style={{ position: 'absolute', left: 0, top: 0, width: 1063, height: 506, overflow: 'hidden', background: '#fff' }}>
      {titleNames.map((n, i) => (
        <Panel key={n} i={i} />
      ))}
      <Labels />
    </div>
  );
}
